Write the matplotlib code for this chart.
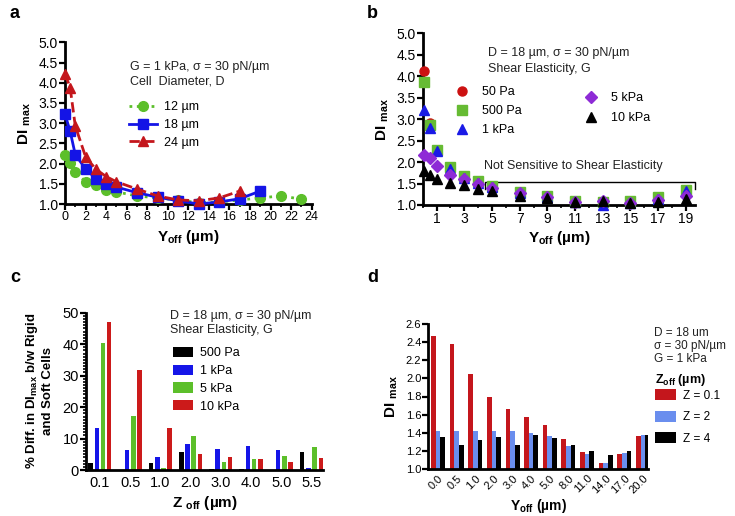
import matplotlib
matplotlib.use('Agg')
import matplotlib.pyplot as plt
import numpy as np
from matplotlib.ticker import MultipleLocator, FixedLocator, FormatStrFormatter
from matplotlib.lines import Line2D

plt.rcParams['font.family'] = ['Liberation Sans', 'DejaVu Sans']
plt.rcParams['mathtext.fontset'] = 'custom'
plt.rcParams['mathtext.rm'] = 'Liberation Sans'
plt.rcParams['mathtext.bf'] = 'Liberation Sans:bold'
plt.rcParams['mathtext.it'] = 'Liberation Sans:italic'

# ---- panel a: DI max vs Y off, cell diameter ----
a_x12 = [0, 0.5, 1, 2, 3, 4, 5, 7, 9, 11, 13, 15, 17, 19, 21, 23]
a_y12 = [2.22, 2.02, 1.80, 1.55, 1.47, 1.35, 1.30, 1.20, 1.15, 1.10, 1.03, 1.05, 1.10, 1.15, 1.20, 1.12]
a_x18 = [0, 0.5, 1, 2, 3, 4, 5, 7, 9, 11, 13, 15, 17, 19]
a_y18 = [3.22, 2.80, 2.22, 1.87, 1.63, 1.50, 1.42, 1.28, 1.17, 1.08, 1.00, 1.05, 1.13, 1.32]
a_x24 = [0, 0.5, 1, 2, 3, 4, 5, 7, 9, 11, 13, 15, 17]
a_y24 = [4.22, 3.88, 2.93, 2.17, 1.86, 1.68, 1.55, 1.37, 1.20, 1.10, 1.08, 1.15, 1.32]

# ---- panel b: DI max vs Y off, shear elasticity ----
b_x = [0.1, 0.5, 1, 2, 3, 4, 5, 7, 9, 11, 13, 15, 17, 19]
b_50 = [4.13, 2.92, 2.28, 1.88, 1.67, 1.55, 1.45, 1.30, 1.20, 1.10, 1.08, 1.10, 1.18, 1.35]
b_500 = [3.86, 2.86, 2.28, 1.88, 1.67, 1.55, 1.45, 1.30, 1.20, 1.10, 1.08, 1.10, 1.18, 1.35]
b_1k = [3.22, 2.80, 2.25, 1.85, 1.63, 1.52, 1.42, 1.28, 1.18, 1.08, 1.00, 1.05, 1.13, 1.32]
b_5k = [2.17, 2.10, 1.90, 1.70, 1.60, 1.48, 1.40, 1.27, 1.18, 1.08, 1.10, 1.05, 1.12, 1.22]
b_10k = [1.80, 1.70, 1.60, 1.52, 1.47, 1.37, 1.33, 1.22, 1.17, 1.08, 1.10, 1.05, 1.08, 1.15]

# ---- panel c: % difference vs Z off ----
c_cats = ['0.1', '0.5', '1.0', '2.0', '3.0', '4.0', '5.0', '5.5']
c_500 = [2.2, 0.0, 2.2, 5.8, 0.4, 0.4, 0.0, 5.8]
c_1k = [13.2, 6.2, 4.2, 8.2, 6.7, 7.5, 6.4, 0.5]
c_5k = [40.5, 17.3, 0.5, 10.8, 2.6, 3.6, 4.5, 7.2]
c_10k = [47.2, 31.7, 13.5, 5.2, 4.2, 3.4, 2.4, 3.9]

# ---- panel d: DI max vs Y off for Z off ----
d_cats = ['0.0', '0.5', '1.0', '2.0', '3.0', '4.0', '5.0', '8.0', '11.0', '14.0', '17.0', '20.0']
d_z01 = [2.47, 2.38, 2.05, 1.79, 1.66, 1.57, 1.49, 1.33, 1.19, 1.07, 1.17, 1.36]
d_z2 = [1.42, 1.42, 1.42, 1.42, 1.42, 1.40, 1.36, 1.25, 1.17, 1.07, 1.18, 1.37]
d_z4 = [1.35, 1.26, 1.32, 1.35, 1.26, 1.37, 1.34, 1.26, 1.20, 1.16, 1.20, 1.38]

W, H = 735, 516
fig = plt.figure(figsize=(W / 100, H / 100), dpi=100)


def ax_px(l, t, r, b):
    return fig.add_axes([l / W, 1 - b / H, (r - l) / W, (b - t) / H])


def style(ax, fs=10):
    for s in ['top', 'right']:
        ax.spines[s].set_visible(False)
    for s in ['left', 'bottom']:
        ax.spines[s].set_linewidth(2)
    ax.tick_params(which='major', width=1.6, length=4, labelsize=fs, direction='out', pad=1)
    ax.tick_params(which='minor', width=1.2, length=2.5, direction='out')


GREEN = '#5cbf2a'
BLUE = '#1414e6'
RED = '#c4161c'

# panel a
ax = ax_px(65, 42.3, 311.7, 204)
style(ax, 10)
ax.tick_params(axis='x', labelsize=9)
ax.plot(a_x12, a_y12, ':', color=GREEN, lw=2, marker='o', ms=7, clip_on=False, label='12 µm', zorder=3)
ax.plot(a_x18, a_y18, '-', color=BLUE, lw=2, marker='s', ms=7, clip_on=False, label='18 µm', zorder=4)
ax.plot(a_x24, a_y24, '--', color=RED, lw=2, marker='^', ms=7, clip_on=False, label='24 µm', zorder=5)
ax.set_xlim(0, 24)
ax.set_ylim(1.0, 5.0)
ax.xaxis.set_major_locator(MultipleLocator(2))
ax.xaxis.set_minor_locator(MultipleLocator(1))
ax.yaxis.set_major_locator(MultipleLocator(0.5))
ax.yaxis.set_major_formatter(FormatStrFormatter('%.1f'))
ax.set_xlabel(r'$\mathbf{Y_{off}}$ (µm)', fontsize=11, fontweight='bold', labelpad=4)
ax.set_ylabel(r'$\mathbf{DI}$ $_{\mathbf{max}}$', fontsize=11, fontweight='bold', labelpad=4)
ax.text(0.265, 0.80, 'G = 1 kPa, σ = 30 pN/µm\nCell  Diameter, D', transform=ax.transAxes,
        fontsize=9, color='#222222', va='center', linespacing=1.3)
ax.legend(loc='upper left', bbox_to_anchor=(0.24, 0.665), frameon=False, fontsize=9,
          handlelength=2.2, handletextpad=0.6, labelspacing=0.45, borderaxespad=0)
fig.text(10 / W, 1 - 14 / H, 'a', fontsize=13, fontweight='bold', va='center')

# panel b
ax = ax_px(422.8, 33.3, 695, 205)
style(ax, 10)
ms = 6.5
ax.plot(b_x, b_50, 'o', color='#cc1111', ms=ms, clip_on=False, zorder=3)
ax.plot(b_x, b_500, 's', color='#66bb33', ms=ms, clip_on=False, zorder=4)
ax.plot(b_x, b_1k, '^', color='#1a1ae6', ms=ms, clip_on=False, zorder=5)
ax.plot(b_x, b_5k, 'D', color='#8e2bd6', ms=ms - 0.5, clip_on=False, zorder=6)
ax.plot(b_x, b_10k, '^', color='black', ms=ms, clip_on=False, zorder=7)
ax.set_xlim(0, 19.67)
ax.set_ylim(1.0, 5.0)
ax.xaxis.set_major_locator(FixedLocator([1, 3, 5, 7, 9, 11, 13, 15, 17, 19]))
ax.xaxis.set_minor_locator(MultipleLocator(1))
ax.yaxis.set_major_locator(MultipleLocator(0.5))
ax.yaxis.set_major_formatter(FormatStrFormatter('%.1f'))
ax.set_xlabel(r'$\mathbf{Y_{off}}$ (µm)', fontsize=11, fontweight='bold', labelpad=2)
ax.set_ylabel(r'$\mathbf{DI}$ $_{\mathbf{max}}$', fontsize=11, fontweight='bold', labelpad=4)
ax.text(0.24, 0.84, 'D = 18 µm, σ = 30 pN/µm\nShear Elasticity, G', transform=ax.transAxes,
        fontsize=9, color='#222222', va='center', linespacing=1.4)
h1 = [Line2D([], [], ls='', marker='o', color='#cc1111', ms=ms),
      Line2D([], [], ls='', marker='s', color='#66bb33', ms=ms),
      Line2D([], [], ls='', marker='^', color='#1a1ae6', ms=ms)]
leg1 = ax.legend(h1, ['50 Pa', '500 Pa', '1 kPa'], loc='upper left', bbox_to_anchor=(0.08, 0.72),
                 frameon=False, fontsize=9, handletextpad=0.6, labelspacing=0.55, borderaxespad=0)
ax.add_artist(leg1)
h2 = [Line2D([], [], ls='', marker='D', color='#8e2bd6', ms=ms - 0.5),
      Line2D([], [], ls='', marker='^', color='black', ms=ms)]
ax.legend(h2, ['5 kPa', '10 kPa'], loc='upper left', bbox_to_anchor=(0.555, 0.685),
          frameon=False, fontsize=9, handletextpad=0.6, labelspacing=0.6, borderaxespad=0)
ax.plot([4.5, 4.5, 19.7, 19.7], [1.37, 1.53, 1.53, 1.37], color='black', lw=1, clip_on=False)
ax.text(4.4, 1.9, 'Not Sensitive to Shear Elasticity', fontsize=9, color='#222222', va='center')
fig.text(367 / W, 1 - 14 / H, 'b', fontsize=13, fontweight='bold', va='center')

# panel c
ax = ax_px(86, 312.7, 323, 470)
style(ax, 10.5)
xc = np.arange(len(c_cats))
bw = 0.15
off = 0.205
for k, (vals, col, lab) in enumerate([(c_500, 'black', '500 Pa'), (c_1k, '#1515e8', '1 kPa'),
                                       (c_5k, GREEN, '5 kPa'), (c_10k, '#cc1a1a', '10 kPa')]):
    ax.bar(xc + (k - 1.5) * off, vals, width=bw, color=col, label=lab)
ax.set_xlim(-0.46, 7.38)
ax.set_ylim(0, 50)
ax.set_xticks(xc)
ax.set_xticklabels(c_cats)
ax.tick_params(axis='x', length=0, pad=4)
ax.yaxis.set_major_locator(MultipleLocator(10))
ax.yaxis.set_minor_locator(MultipleLocator(1))
ax.set_xlabel(r'$\mathbf{Z}$ $_{\mathbf{off}}$ (µm)', fontsize=11, fontweight='bold', labelpad=3)
ax.set_ylabel('% Diff. in DI$_{\\mathbf{max}}$ b/w Rigid\nand Soft Cells', fontsize=9.5,
              fontweight='bold', labelpad=6, linespacing=1.3)
ax.text(0.355, 0.935, 'D = 18 µm, σ = 30 pN/µm\nShear Elasticity, G', transform=ax.transAxes,
        fontsize=9, color='#222222', va='center', linespacing=1.2)
ax.legend(loc='upper left', bbox_to_anchor=(0.345, 0.815), frameon=False, fontsize=9,
          handlelength=1.6, handleheight=0.9, handletextpad=0.6, labelspacing=0.42, borderaxespad=0)
fig.text(10 / W, 1 - 278 / H, 'c', fontsize=13, fontweight='bold', va='center')

# panel d
ax = ax_px(428.3, 324, 648, 469)
style(ax, 8)
xd = np.arange(len(d_cats))
bw = 0.25
for k, (vals, col, lab) in enumerate([(d_z01, RED, 'Z = 0.1'), (d_z2, '#6a8eee', 'Z = 2'),
                                       (d_z4, 'black', 'Z = 4')]):
    ax.bar(xd + (k - 1) * bw, vals, width=bw, color=col, label=lab)
ax.set_xlim(-0.52, 11.27)
ax.set_ylim(1.0, 2.6)
ax.set_xticks(xd)
ax.set_xticklabels(d_cats, rotation=45, ha='right', rotation_mode='anchor')
ax.tick_params(axis='x', length=0, pad=3)
ax.yaxis.set_major_locator(MultipleLocator(0.2))
ax.yaxis.set_major_formatter(FormatStrFormatter('%.1f'))
ax.set_xlabel(r'$\mathbf{Y_{off}}$ (µm)', fontsize=10, fontweight='bold', labelpad=1)
ax.set_ylabel(r'$\mathbf{DI}$ $_{\mathbf{max}}$', fontsize=11, fontweight='bold', labelpad=4)
fig.text(654 / W, 1 - 346 / H, 'D = 18 um\nσ = 30 pN/µm\nG = 1 kPa', fontsize=8.5,
         color='#222222', va='center', linespacing=1.15)
fig.text(655 / W, 1 - 380 / H, r'$\mathbf{Z_{off}}$ (µm)', fontsize=9, fontweight='bold', va='center')
ax.legend(loc='upper left', bbox_to_anchor=(655 / W, 1 - 389 / H), bbox_transform=fig.transFigure,
          frameon=False, fontsize=8.5, handlelength=1.8, handleheight=1.1, handletextpad=0.6,
          labelspacing=0.75, borderaxespad=0, borderpad=0)
fig.text(367 / W, 1 - 278 / H, 'd', fontsize=13, fontweight='bold', va='center')

fig.savefig('out.png', dpi=100)
